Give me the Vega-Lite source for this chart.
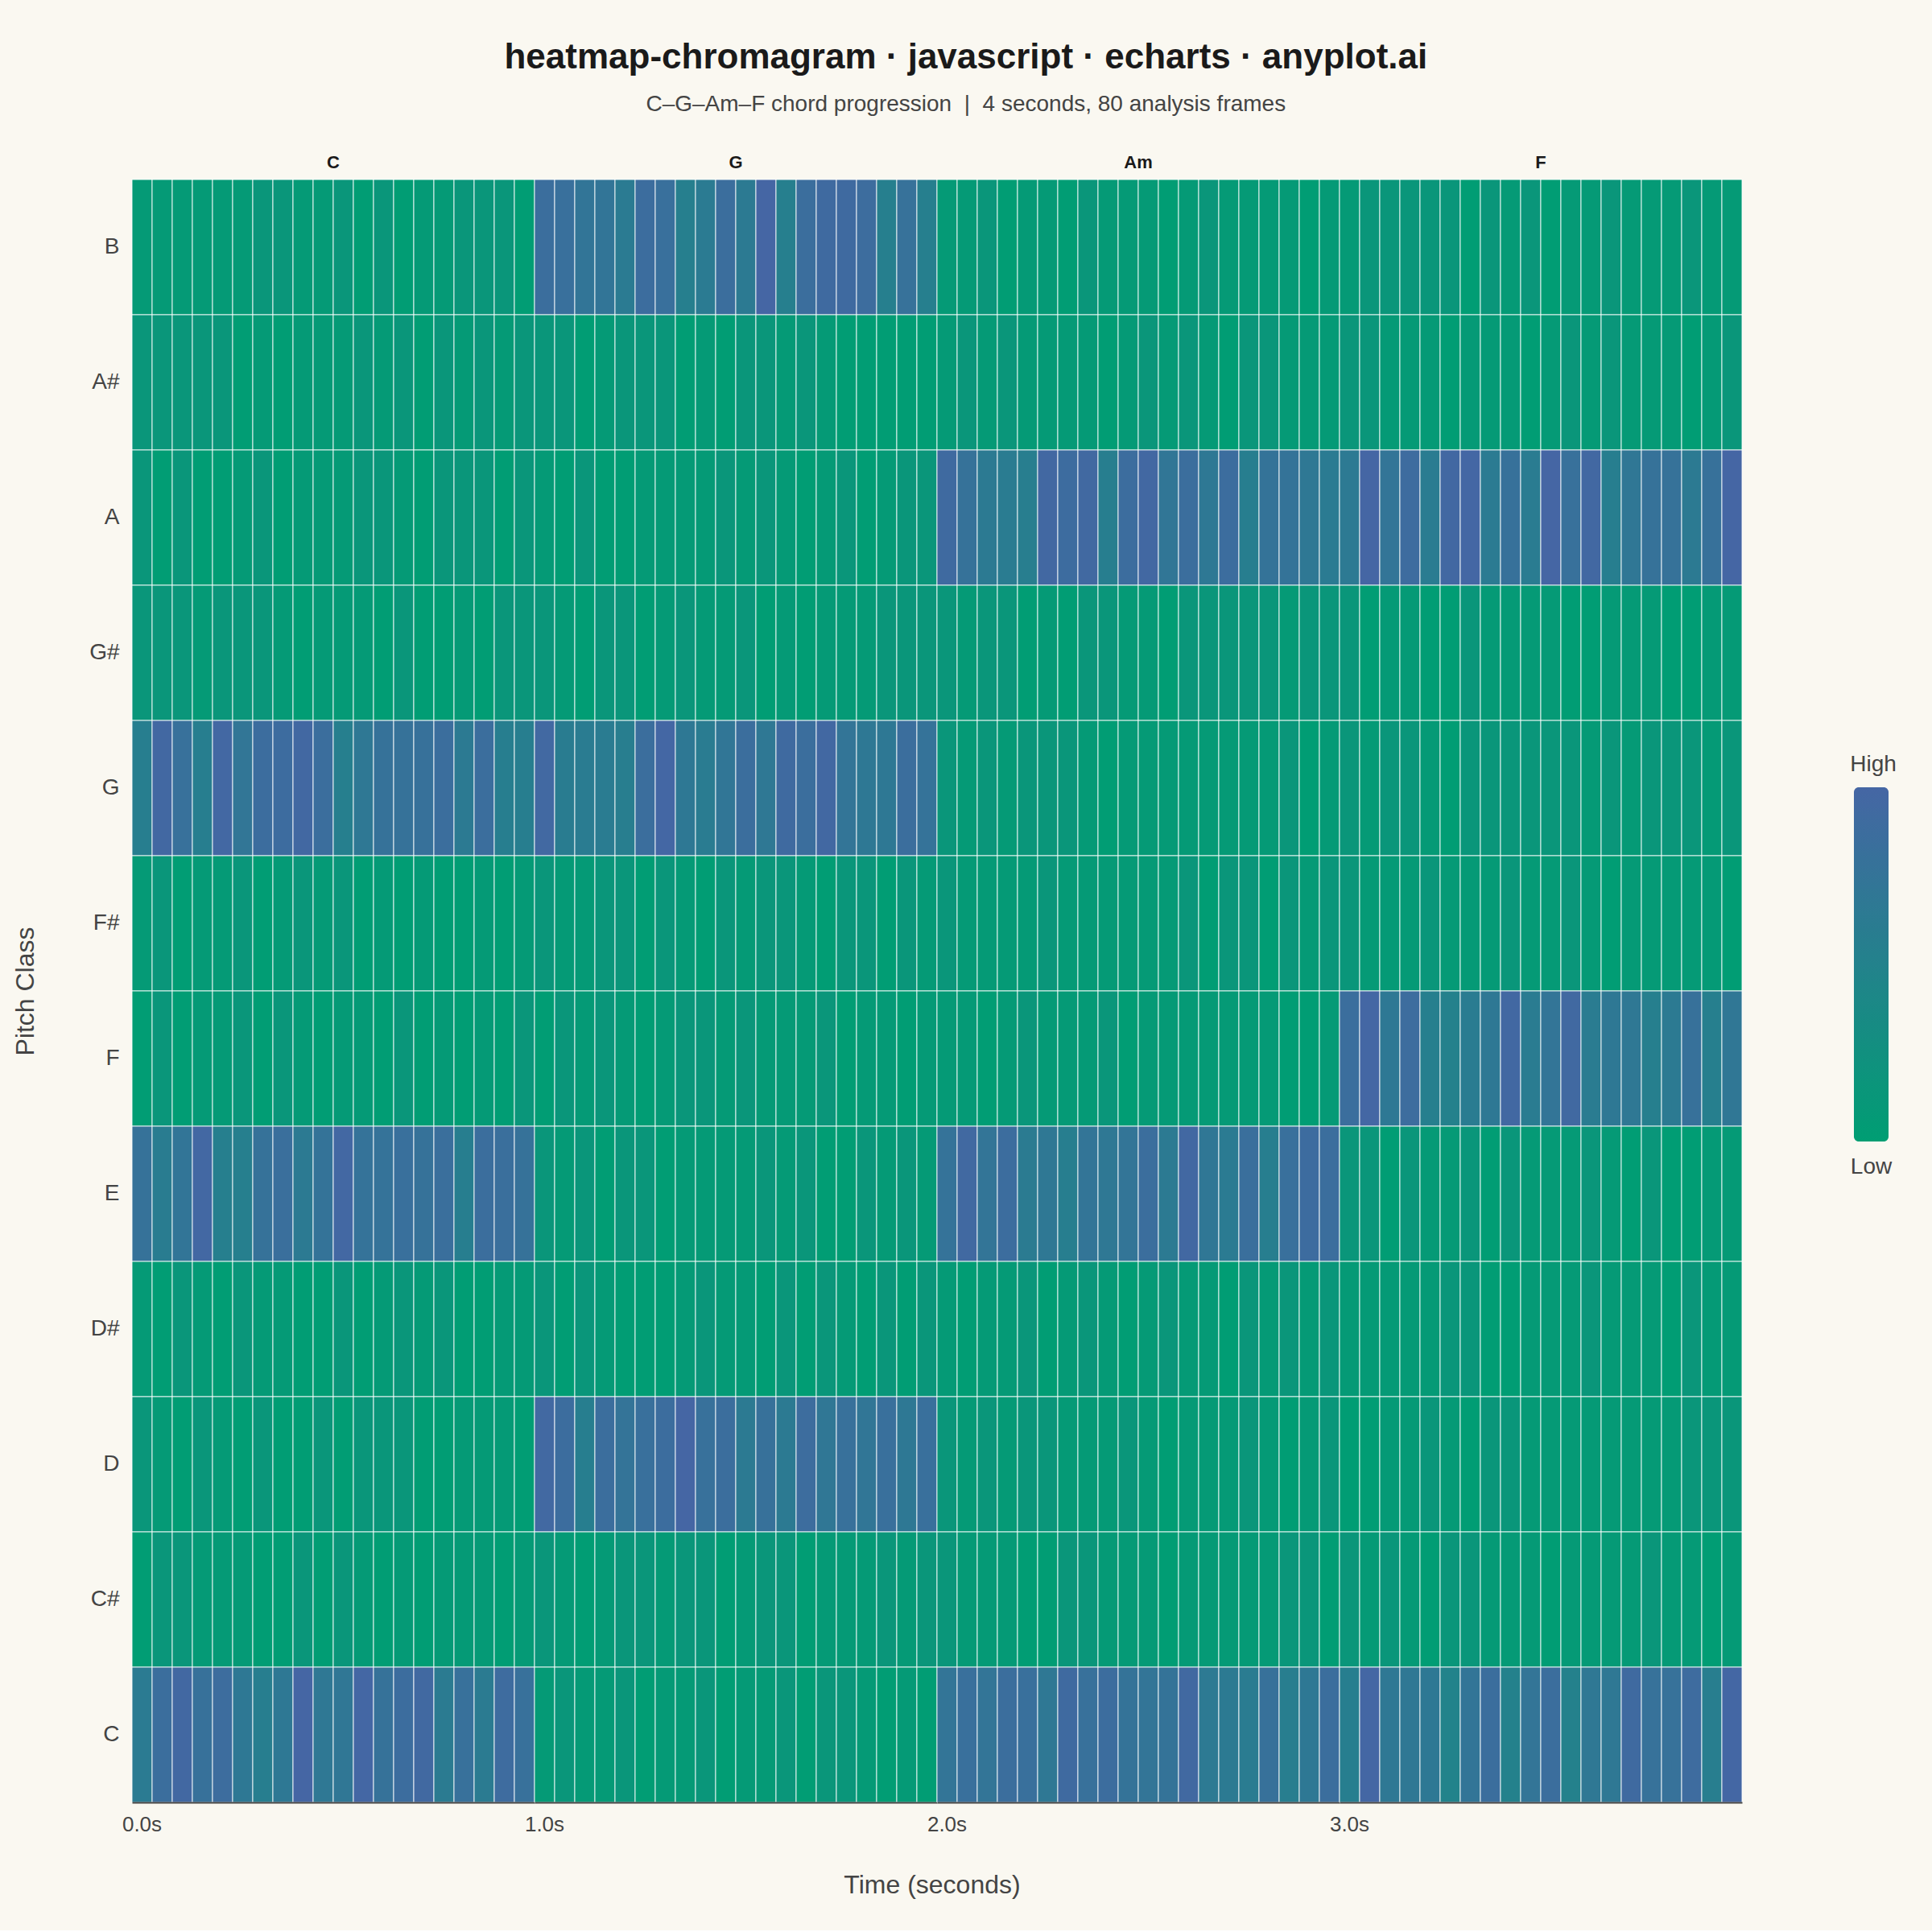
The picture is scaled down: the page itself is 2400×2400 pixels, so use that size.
{
"$schema": "https://vega.github.io/schema/vega-lite/v6.json",
"background": "#FAF8F1",
"padding": {"left": 15, "top": 50, "right": 44, "bottom": 40},
"bounds": "flush",
"title": {"text": "heatmap-chromagram · javascript · echarts · anyplot.ai", "subtitle": "C–G–Am–F chord progression \u00a0|\u00a0 4 seconds, 80 analysis frames", "anchor": "middle", "dx": 14, "font": "Liberation Sans", "fontSize": 44, "fontWeight": "bold", "color": "#1a1a1a", "subtitleFont": "Liberation Sans", "subtitleFontSize": 28, "subtitleColor": "#444444", "subtitlePadding": 22, "offset": 47},
"data": {"values": [
{"t":0,"p":"B","c":"C","v":0.07},{"t":1,"p":"B","c":"C","v":0.07},{"t":2,"p":"B","c":"C","v":0.07},{"t":3,"p":"B","c":"C","v":0.07},{"t":4,"p":"B","c":"C","v":0.07},{"t":5,"p":"B","c":"C","v":0.07},{"t":6,"p":"B","c":"C","v":0.14},{"t":7,"p":"B","c":"C","v":0.14},{"t":8,"p":"B","c":"C","v":0.07},{"t":9,"p":"B","c":"C","v":0.07},{"t":10,"p":"B","c":"C","v":0.14},{"t":11,"p":"B","c":"C","v":0.02},{"t":12,"p":"B","c":"C","v":0.14},{"t":13,"p":"B","c":"C","v":0.02},{"t":14,"p":"B","c":"C","v":0.07},{"t":15,"p":"B","c":"C","v":0.07},{"t":16,"p":"B","c":"C","v":0.14},{"t":17,"p":"B","c":"C","v":0.14},{"t":18,"p":"B","c":"C","v":0.14},{"t":19,"p":"B","c":"C","v":0.02},
{"t":20,"p":"B","c":"G","v":0.85},{"t":21,"p":"B","c":"G","v":0.83},{"t":22,"p":"B","c":"G","v":0.73},{"t":23,"p":"B","c":"G","v":0.73},{"t":24,"p":"B","c":"G","v":0.63},{"t":25,"p":"B","c":"G","v":0.87},{"t":26,"p":"B","c":"G","v":0.83},{"t":27,"p":"B","c":"G","v":0.55},{"t":28,"p":"B","c":"G","v":0.63},{"t":29,"p":"B","c":"G","v":0.85},{"t":30,"p":"B","c":"G","v":0.64},{"t":31,"p":"B","c":"G","v":1.0},{"t":32,"p":"B","c":"G","v":0.55},{"t":33,"p":"B","c":"G","v":0.86},{"t":34,"p":"B","c":"G","v":0.92},{"t":35,"p":"B","c":"G","v":0.92},{"t":36,"p":"B","c":"G","v":0.88},{"t":37,"p":"B","c":"G","v":0.55},{"t":38,"p":"B","c":"G","v":0.79},{"t":39,"p":"B","c":"G","v":0.55},
{"t":40,"p":"B","c":"Am","v":0.07},{"t":41,"p":"B","c":"Am","v":0.07},{"t":42,"p":"B","c":"Am","v":0.14},{"t":43,"p":"B","c":"Am","v":0.02},{"t":44,"p":"B","c":"Am","v":0.07},{"t":45,"p":"B","c":"Am","v":0.07},{"t":46,"p":"B","c":"Am","v":0.02},{"t":47,"p":"B","c":"Am","v":0.14},{"t":48,"p":"B","c":"Am","v":0.07},{"t":49,"p":"B","c":"Am","v":0.07},{"t":50,"p":"B","c":"Am","v":0.07},{"t":51,"p":"B","c":"Am","v":0.02},{"t":52,"p":"B","c":"Am","v":0.07},{"t":53,"p":"B","c":"Am","v":0.14},{"t":54,"p":"B","c":"Am","v":0.07},{"t":55,"p":"B","c":"Am","v":0.07},{"t":56,"p":"B","c":"Am","v":0.07},{"t":57,"p":"B","c":"Am","v":0.07},{"t":58,"p":"B","c":"Am","v":0.02},{"t":59,"p":"B","c":"Am","v":0.07},
{"t":60,"p":"B","c":"F","v":0.07},{"t":61,"p":"B","c":"F","v":0.14},{"t":62,"p":"B","c":"F","v":0.14},{"t":63,"p":"B","c":"F","v":0.14},{"t":64,"p":"B","c":"F","v":0.14},{"t":65,"p":"B","c":"F","v":0.14},{"t":66,"p":"B","c":"F","v":0.02},{"t":67,"p":"B","c":"F","v":0.14},{"t":68,"p":"B","c":"F","v":0.07},{"t":69,"p":"B","c":"F","v":0.14},{"t":70,"p":"B","c":"F","v":0.02},{"t":71,"p":"B","c":"F","v":0.07},{"t":72,"p":"B","c":"F","v":0.07},{"t":73,"p":"B","c":"F","v":0.14},{"t":74,"p":"B","c":"F","v":0.07},{"t":75,"p":"B","c":"F","v":0.07},{"t":76,"p":"B","c":"F","v":0.07},{"t":77,"p":"B","c":"F","v":0.14},{"t":78,"p":"B","c":"F","v":0.07},{"t":79,"p":"B","c":"F","v":0.07},
{"t":0,"p":"A#","c":"C","v":0.14},{"t":1,"p":"A#","c":"C","v":0.14},{"t":2,"p":"A#","c":"C","v":0.14},{"t":3,"p":"A#","c":"C","v":0.14},{"t":4,"p":"A#","c":"C","v":0.14},{"t":5,"p":"A#","c":"C","v":0.02},{"t":6,"p":"A#","c":"C","v":0.07},{"t":7,"p":"A#","c":"C","v":0.02},{"t":8,"p":"A#","c":"C","v":0.07},{"t":9,"p":"A#","c":"C","v":0.07},{"t":10,"p":"A#","c":"C","v":0.07},{"t":11,"p":"A#","c":"C","v":0.14},{"t":12,"p":"A#","c":"C","v":0.07},{"t":13,"p":"A#","c":"C","v":0.14},{"t":14,"p":"A#","c":"C","v":0.02},{"t":15,"p":"A#","c":"C","v":0.14},{"t":16,"p":"A#","c":"C","v":0.07},{"t":17,"p":"A#","c":"C","v":0.14},{"t":18,"p":"A#","c":"C","v":0.07},{"t":19,"p":"A#","c":"C","v":0.14},
{"t":20,"p":"A#","c":"G","v":0.14},{"t":21,"p":"A#","c":"G","v":0.14},{"t":22,"p":"A#","c":"G","v":0.02},{"t":23,"p":"A#","c":"G","v":0.07},{"t":24,"p":"A#","c":"G","v":0.14},{"t":25,"p":"A#","c":"G","v":0.14},{"t":26,"p":"A#","c":"G","v":0.14},{"t":27,"p":"A#","c":"G","v":0.02},{"t":28,"p":"A#","c":"G","v":0.07},{"t":29,"p":"A#","c":"G","v":0.02},{"t":30,"p":"A#","c":"G","v":0.14},{"t":31,"p":"A#","c":"G","v":0.14},{"t":32,"p":"A#","c":"G","v":0.07},{"t":33,"p":"A#","c":"G","v":0.14},{"t":34,"p":"A#","c":"G","v":0.07},{"t":35,"p":"A#","c":"G","v":0.02},{"t":36,"p":"A#","c":"G","v":0.02},{"t":37,"p":"A#","c":"G","v":0.02},{"t":38,"p":"A#","c":"G","v":0.02},{"t":39,"p":"A#","c":"G","v":0.02},
{"t":40,"p":"A#","c":"Am","v":0.07},{"t":41,"p":"A#","c":"Am","v":0.14},{"t":42,"p":"A#","c":"Am","v":0.07},{"t":43,"p":"A#","c":"Am","v":0.14},{"t":44,"p":"A#","c":"Am","v":0.07},{"t":45,"p":"A#","c":"Am","v":0.07},{"t":46,"p":"A#","c":"Am","v":0.07},{"t":47,"p":"A#","c":"Am","v":0.07},{"t":48,"p":"A#","c":"Am","v":0.02},{"t":49,"p":"A#","c":"Am","v":0.07},{"t":50,"p":"A#","c":"Am","v":0.14},{"t":51,"p":"A#","c":"Am","v":0.07},{"t":52,"p":"A#","c":"Am","v":0.14},{"t":53,"p":"A#","c":"Am","v":0.07},{"t":54,"p":"A#","c":"Am","v":0.02},{"t":55,"p":"A#","c":"Am","v":0.14},{"t":56,"p":"A#","c":"Am","v":0.14},{"t":57,"p":"A#","c":"Am","v":0.07},{"t":58,"p":"A#","c":"Am","v":0.07},{"t":59,"p":"A#","c":"Am","v":0.07},
{"t":60,"p":"A#","c":"F","v":0.14},{"t":61,"p":"A#","c":"F","v":0.14},{"t":62,"p":"A#","c":"F","v":0.07},{"t":63,"p":"A#","c":"F","v":0.07},{"t":64,"p":"A#","c":"F","v":0.07},{"t":65,"p":"A#","c":"F","v":0.02},{"t":66,"p":"A#","c":"F","v":0.07},{"t":67,"p":"A#","c":"F","v":0.07},{"t":68,"p":"A#","c":"F","v":0.07},{"t":69,"p":"A#","c":"F","v":0.02},{"t":70,"p":"A#","c":"F","v":0.07},{"t":71,"p":"A#","c":"F","v":0.14},{"t":72,"p":"A#","c":"F","v":0.07},{"t":73,"p":"A#","c":"F","v":0.14},{"t":74,"p":"A#","c":"F","v":0.07},{"t":75,"p":"A#","c":"F","v":0.07},{"t":76,"p":"A#","c":"F","v":0.07},{"t":77,"p":"A#","c":"F","v":0.02},{"t":78,"p":"A#","c":"F","v":0.07},{"t":79,"p":"A#","c":"F","v":0.14},
{"t":0,"p":"A","c":"C","v":0.14},{"t":1,"p":"A","c":"C","v":0.02},{"t":2,"p":"A","c":"C","v":0.14},{"t":3,"p":"A","c":"C","v":0.02},{"t":4,"p":"A","c":"C","v":0.02},{"t":5,"p":"A","c":"C","v":0.07},{"t":6,"p":"A","c":"C","v":0.14},{"t":7,"p":"A","c":"C","v":0.02},{"t":8,"p":"A","c":"C","v":0.07},{"t":9,"p":"A","c":"C","v":0.07},{"t":10,"p":"A","c":"C","v":0.07},{"t":11,"p":"A","c":"C","v":0.14},{"t":12,"p":"A","c":"C","v":0.14},{"t":13,"p":"A","c":"C","v":0.07},{"t":14,"p":"A","c":"C","v":0.02},{"t":15,"p":"A","c":"C","v":0.14},{"t":16,"p":"A","c":"C","v":0.14},{"t":17,"p":"A","c":"C","v":0.14},{"t":18,"p":"A","c":"C","v":0.02},{"t":19,"p":"A","c":"C","v":0.14},
{"t":20,"p":"A","c":"G","v":0.07},{"t":21,"p":"A","c":"G","v":0.02},{"t":22,"p":"A","c":"G","v":0.14},{"t":23,"p":"A","c":"G","v":0.02},{"t":24,"p":"A","c":"G","v":0.02},{"t":25,"p":"A","c":"G","v":0.07},{"t":26,"p":"A","c":"G","v":0.07},{"t":27,"p":"A","c":"G","v":0.07},{"t":28,"p":"A","c":"G","v":0.07},{"t":29,"p":"A","c":"G","v":0.14},{"t":30,"p":"A","c":"G","v":0.07},{"t":31,"p":"A","c":"G","v":0.14},{"t":32,"p":"A","c":"G","v":0.07},{"t":33,"p":"A","c":"G","v":0.02},{"t":34,"p":"A","c":"G","v":0.07},{"t":35,"p":"A","c":"G","v":0.14},{"t":36,"p":"A","c":"G","v":0.02},{"t":37,"p":"A","c":"G","v":0.07},{"t":38,"p":"A","c":"G","v":0.14},{"t":39,"p":"A","c":"G","v":0.14},
{"t":40,"p":"A","c":"Am","v":0.92},{"t":41,"p":"A","c":"Am","v":0.78},{"t":42,"p":"A","c":"Am","v":0.64},{"t":43,"p":"A","c":"Am","v":0.61},{"t":44,"p":"A","c":"Am","v":0.58},{"t":45,"p":"A","c":"Am","v":0.96},{"t":46,"p":"A","c":"Am","v":0.89},{"t":47,"p":"A","c":"Am","v":0.94},{"t":48,"p":"A","c":"Am","v":0.57},{"t":49,"p":"A","c":"Am","v":0.87},{"t":50,"p":"A","c":"Am","v":0.96},{"t":51,"p":"A","c":"Am","v":0.71},{"t":52,"p":"A","c":"Am","v":0.86},{"t":53,"p":"A","c":"Am","v":0.67},{"t":54,"p":"A","c":"Am","v":0.87},{"t":55,"p":"A","c":"Am","v":0.57},{"t":56,"p":"A","c":"Am","v":0.76},{"t":57,"p":"A","c":"Am","v":0.76},{"t":58,"p":"A","c":"Am","v":0.68},{"t":59,"p":"A","c":"Am","v":0.63},
{"t":60,"p":"A","c":"F","v":0.65},{"t":61,"p":"A","c":"F","v":1.0},{"t":62,"p":"A","c":"F","v":0.74},{"t":63,"p":"A","c":"F","v":0.9},{"t":64,"p":"A","c":"F","v":0.61},{"t":65,"p":"A","c":"F","v":0.96},{"t":66,"p":"A","c":"F","v":0.99},{"t":67,"p":"A","c":"F","v":0.63},{"t":68,"p":"A","c":"F","v":0.8},{"t":69,"p":"A","c":"F","v":0.61},{"t":70,"p":"A","c":"F","v":1.0},{"t":71,"p":"A","c":"F","v":0.81},{"t":72,"p":"A","c":"F","v":0.96},{"t":73,"p":"A","c":"F","v":0.57},{"t":74,"p":"A","c":"F","v":0.7},{"t":75,"p":"A","c":"F","v":0.78},{"t":76,"p":"A","c":"F","v":0.78},{"t":77,"p":"A","c":"F","v":0.64},{"t":78,"p":"A","c":"F","v":0.8},{"t":79,"p":"A","c":"F","v":1.0},
{"t":0,"p":"G#","c":"C","v":0.14},{"t":1,"p":"G#","c":"C","v":0.14},{"t":2,"p":"G#","c":"C","v":0.14},{"t":3,"p":"G#","c":"C","v":0.07},{"t":4,"p":"G#","c":"C","v":0.14},{"t":5,"p":"G#","c":"C","v":0.14},{"t":6,"p":"G#","c":"C","v":0.14},{"t":7,"p":"G#","c":"C","v":0.07},{"t":8,"p":"G#","c":"C","v":0.02},{"t":9,"p":"G#","c":"C","v":0.07},{"t":10,"p":"G#","c":"C","v":0.07},{"t":11,"p":"G#","c":"C","v":0.07},{"t":12,"p":"G#","c":"C","v":0.02},{"t":13,"p":"G#","c":"C","v":0.14},{"t":14,"p":"G#","c":"C","v":0.02},{"t":15,"p":"G#","c":"C","v":0.02},{"t":16,"p":"G#","c":"C","v":0.07},{"t":17,"p":"G#","c":"C","v":0.02},{"t":18,"p":"G#","c":"C","v":0.14},{"t":19,"p":"G#","c":"C","v":0.14},
{"t":20,"p":"G#","c":"G","v":0.14},{"t":21,"p":"G#","c":"G","v":0.07},{"t":22,"p":"G#","c":"G","v":0.02},{"t":23,"p":"G#","c":"G","v":0.14},{"t":24,"p":"G#","c":"G","v":0.14},{"t":25,"p":"G#","c":"G","v":0.02},{"t":26,"p":"G#","c":"G","v":0.07},{"t":27,"p":"G#","c":"G","v":0.14},{"t":28,"p":"G#","c":"G","v":0.07},{"t":29,"p":"G#","c":"G","v":0.07},{"t":30,"p":"G#","c":"G","v":0.14},{"t":31,"p":"G#","c":"G","v":0.02},{"t":32,"p":"G#","c":"G","v":0.07},{"t":33,"p":"G#","c":"G","v":0.02},{"t":34,"p":"G#","c":"G","v":0.07},{"t":35,"p":"G#","c":"G","v":0.07},{"t":36,"p":"G#","c":"G","v":0.07},{"t":37,"p":"G#","c":"G","v":0.14},{"t":38,"p":"G#","c":"G","v":0.14},{"t":39,"p":"G#","c":"G","v":0.14},
{"t":40,"p":"G#","c":"Am","v":0.14},{"t":41,"p":"G#","c":"Am","v":0.07},{"t":42,"p":"G#","c":"Am","v":0.14},{"t":43,"p":"G#","c":"Am","v":0.14},{"t":44,"p":"G#","c":"Am","v":0.02},{"t":45,"p":"G#","c":"Am","v":0.07},{"t":46,"p":"G#","c":"Am","v":0.02},{"t":47,"p":"G#","c":"Am","v":0.14},{"t":48,"p":"G#","c":"Am","v":0.14},{"t":49,"p":"G#","c":"Am","v":0.07},{"t":50,"p":"G#","c":"Am","v":0.07},{"t":51,"p":"G#","c":"Am","v":0.02},{"t":52,"p":"G#","c":"Am","v":0.14},{"t":53,"p":"G#","c":"Am","v":0.14},{"t":54,"p":"G#","c":"Am","v":0.14},{"t":55,"p":"G#","c":"Am","v":0.14},{"t":56,"p":"G#","c":"Am","v":0.14},{"t":57,"p":"G#","c":"Am","v":0.07},{"t":58,"p":"G#","c":"Am","v":0.14},{"t":59,"p":"G#","c":"Am","v":0.14},
{"t":60,"p":"G#","c":"F","v":0.14},{"t":61,"p":"G#","c":"F","v":0.02},{"t":62,"p":"G#","c":"F","v":0.07},{"t":63,"p":"G#","c":"F","v":0.07},{"t":64,"p":"G#","c":"F","v":0.02},{"t":65,"p":"G#","c":"F","v":0.02},{"t":66,"p":"G#","c":"F","v":0.14},{"t":67,"p":"G#","c":"F","v":0.07},{"t":68,"p":"G#","c":"F","v":0.07},{"t":69,"p":"G#","c":"F","v":0.07},{"t":70,"p":"G#","c":"F","v":0.07},{"t":71,"p":"G#","c":"F","v":0.02},{"t":72,"p":"G#","c":"F","v":0.02},{"t":73,"p":"G#","c":"F","v":0.07},{"t":74,"p":"G#","c":"F","v":0.07},{"t":75,"p":"G#","c":"F","v":0.07},{"t":76,"p":"G#","c":"F","v":0.02},{"t":77,"p":"G#","c":"F","v":0.02},{"t":78,"p":"G#","c":"F","v":0.07},{"t":79,"p":"G#","c":"F","v":0.07},
{"t":0,"p":"G","c":"C","v":0.57},{"t":1,"p":"G","c":"C","v":0.96},{"t":2,"p":"G","c":"C","v":0.81},{"t":3,"p":"G","c":"C","v":0.57},{"t":4,"p":"G","c":"C","v":0.97},{"t":5,"p":"G","c":"C","v":0.72},{"t":6,"p":"G","c":"C","v":0.87},{"t":7,"p":"G","c":"C","v":0.89},{"t":8,"p":"G","c":"C","v":0.96},{"t":9,"p":"G","c":"C","v":0.85},{"t":10,"p":"G","c":"C","v":0.55},{"t":11,"p":"G","c":"C","v":0.68},{"t":12,"p":"G","c":"C","v":0.78},{"t":13,"p":"G","c":"C","v":0.78},{"t":14,"p":"G","c":"C","v":0.8},{"t":15,"p":"G","c":"C","v":0.85},{"t":16,"p":"G","c":"C","v":0.64},{"t":17,"p":"G","c":"C","v":0.85},{"t":18,"p":"G","c":"C","v":0.57},{"t":19,"p":"G","c":"C","v":0.57},
{"t":20,"p":"G","c":"G","v":0.95},{"t":21,"p":"G","c":"G","v":0.6},{"t":22,"p":"G","c":"G","v":0.61},{"t":23,"p":"G","c":"G","v":0.61},{"t":24,"p":"G","c":"G","v":0.58},{"t":25,"p":"G","c":"G","v":0.86},{"t":26,"p":"G","c":"G","v":0.99},{"t":27,"p":"G","c":"G","v":0.67},{"t":28,"p":"G","c":"G","v":0.61},{"t":29,"p":"G","c":"G","v":0.71},{"t":30,"p":"G","c":"G","v":0.86},{"t":31,"p":"G","c":"G","v":0.68},{"t":32,"p":"G","c":"G","v":0.92},{"t":33,"p":"G","c":"G","v":0.85},{"t":34,"p":"G","c":"G","v":0.96},{"t":35,"p":"G","c":"G","v":0.74},{"t":36,"p":"G","c":"G","v":0.67},{"t":37,"p":"G","c":"G","v":0.67},{"t":38,"p":"G","c":"G","v":0.86},{"t":39,"p":"G","c":"G","v":0.77},
{"t":40,"p":"G","c":"Am","v":0.14},{"t":41,"p":"G","c":"Am","v":0.07},{"t":42,"p":"G","c":"Am","v":0.14},{"t":43,"p":"G","c":"Am","v":0.07},{"t":44,"p":"G","c":"Am","v":0.14},{"t":45,"p":"G","c":"Am","v":0.14},{"t":46,"p":"G","c":"Am","v":0.14},{"t":47,"p":"G","c":"Am","v":0.07},{"t":48,"p":"G","c":"Am","v":0.02},{"t":49,"p":"G","c":"Am","v":0.07},{"t":50,"p":"G","c":"Am","v":0.07},{"t":51,"p":"G","c":"Am","v":0.07},{"t":52,"p":"G","c":"Am","v":0.07},{"t":53,"p":"G","c":"Am","v":0.07},{"t":54,"p":"G","c":"Am","v":0.07},{"t":55,"p":"G","c":"Am","v":0.07},{"t":56,"p":"G","c":"Am","v":0.07},{"t":57,"p":"G","c":"Am","v":0.14},{"t":58,"p":"G","c":"Am","v":0.02},{"t":59,"p":"G","c":"Am","v":0.07},
{"t":60,"p":"G","c":"F","v":0.14},{"t":61,"p":"G","c":"F","v":0.07},{"t":62,"p":"G","c":"F","v":0.14},{"t":63,"p":"G","c":"F","v":0.14},{"t":64,"p":"G","c":"F","v":0.07},{"t":65,"p":"G","c":"F","v":0.02},{"t":66,"p":"G","c":"F","v":0.14},{"t":67,"p":"G","c":"F","v":0.14},{"t":68,"p":"G","c":"F","v":0.14},{"t":69,"p":"G","c":"F","v":0.14},{"t":70,"p":"G","c":"F","v":0.14},{"t":71,"p":"G","c":"F","v":0.14},{"t":72,"p":"G","c":"F","v":0.07},{"t":73,"p":"G","c":"F","v":0.14},{"t":74,"p":"G","c":"F","v":0.07},{"t":75,"p":"G","c":"F","v":0.14},{"t":76,"p":"G","c":"F","v":0.14},{"t":77,"p":"G","c":"F","v":0.14},{"t":78,"p":"G","c":"F","v":0.07},{"t":79,"p":"G","c":"F","v":0.14},
{"t":0,"p":"F#","c":"C","v":0.07},{"t":1,"p":"F#","c":"C","v":0.14},{"t":2,"p":"F#","c":"C","v":0.02},{"t":3,"p":"F#","c":"C","v":0.07},{"t":4,"p":"F#","c":"C","v":0.07},{"t":5,"p":"F#","c":"C","v":0.14},{"t":6,"p":"F#","c":"C","v":0.02},{"t":7,"p":"F#","c":"C","v":0.07},{"t":8,"p":"F#","c":"C","v":0.14},{"t":9,"p":"F#","c":"C","v":0.07},{"t":10,"p":"F#","c":"C","v":0.14},{"t":11,"p":"F#","c":"C","v":0.02},{"t":12,"p":"F#","c":"C","v":0.07},{"t":13,"p":"F#","c":"C","v":0.02},{"t":14,"p":"F#","c":"C","v":0.07},{"t":15,"p":"F#","c":"C","v":0.02},{"t":16,"p":"F#","c":"C","v":0.02},{"t":17,"p":"F#","c":"C","v":0.07},{"t":18,"p":"F#","c":"C","v":0.02},{"t":19,"p":"F#","c":"C","v":0.07},
{"t":20,"p":"F#","c":"G","v":0.14},{"t":21,"p":"F#","c":"G","v":0.07},{"t":22,"p":"F#","c":"G","v":0.07},{"t":23,"p":"F#","c":"G","v":0.14},{"t":24,"p":"F#","c":"G","v":0.14},{"t":25,"p":"F#","c":"G","v":0.02},{"t":26,"p":"F#","c":"G","v":0.14},{"t":27,"p":"F#","c":"G","v":0.07},{"t":28,"p":"F#","c":"G","v":0.02},{"t":29,"p":"F#","c":"G","v":0.14},{"t":30,"p":"F#","c":"G","v":0.07},{"t":31,"p":"F#","c":"G","v":0.14},{"t":32,"p":"F#","c":"G","v":0.14},{"t":33,"p":"F#","c":"G","v":0.07},{"t":34,"p":"F#","c":"G","v":0.02},{"t":35,"p":"F#","c":"G","v":0.14},{"t":36,"p":"F#","c":"G","v":0.14},{"t":37,"p":"F#","c":"G","v":0.02},{"t":38,"p":"F#","c":"G","v":0.14},{"t":39,"p":"F#","c":"G","v":0.07},
{"t":40,"p":"F#","c":"Am","v":0.14},{"t":41,"p":"F#","c":"Am","v":0.07},{"t":42,"p":"F#","c":"Am","v":0.07},{"t":43,"p":"F#","c":"Am","v":0.07},{"t":44,"p":"F#","c":"Am","v":0.07},{"t":45,"p":"F#","c":"Am","v":0.14},{"t":46,"p":"F#","c":"Am","v":0.07},{"t":47,"p":"F#","c":"Am","v":0.07},{"t":48,"p":"F#","c":"Am","v":0.07},{"t":49,"p":"F#","c":"Am","v":0.07},{"t":50,"p":"F#","c":"Am","v":0.07},{"t":51,"p":"F#","c":"Am","v":0.07},{"t":52,"p":"F#","c":"Am","v":0.14},{"t":53,"p":"F#","c":"Am","v":0.02},{"t":54,"p":"F#","c":"Am","v":0.14},{"t":55,"p":"F#","c":"Am","v":0.14},{"t":56,"p":"F#","c":"Am","v":0.02},{"t":57,"p":"F#","c":"Am","v":0.14},{"t":58,"p":"F#","c":"Am","v":0.07},{"t":59,"p":"F#","c":"Am","v":0.14},
{"t":60,"p":"F#","c":"F","v":0.14},{"t":61,"p":"F#","c":"F","v":0.07},{"t":62,"p":"F#","c":"F","v":0.07},{"t":63,"p":"F#","c":"F","v":0.07},{"t":64,"p":"F#","c":"F","v":0.14},{"t":65,"p":"F#","c":"F","v":0.07},{"t":66,"p":"F#","c":"F","v":0.07},{"t":67,"p":"F#","c":"F","v":0.07},{"t":68,"p":"F#","c":"F","v":0.14},{"t":69,"p":"F#","c":"F","v":0.07},{"t":70,"p":"F#","c":"F","v":0.07},{"t":71,"p":"F#","c":"F","v":0.14},{"t":72,"p":"F#","c":"F","v":0.07},{"t":73,"p":"F#","c":"F","v":0.02},{"t":74,"p":"F#","c":"F","v":0.07},{"t":75,"p":"F#","c":"F","v":0.07},{"t":76,"p":"F#","c":"F","v":0.07},{"t":77,"p":"F#","c":"F","v":0.07},{"t":78,"p":"F#","c":"F","v":0.07},{"t":79,"p":"F#","c":"F","v":0.02},
{"t":0,"p":"F","c":"C","v":0.02},{"t":1,"p":"F","c":"C","v":0.14},{"t":2,"p":"F","c":"C","v":0.02},{"t":3,"p":"F","c":"C","v":0.07},{"t":4,"p":"F","c":"C","v":0.07},{"t":5,"p":"F","c":"C","v":0.14},{"t":6,"p":"F","c":"C","v":0.02},{"t":7,"p":"F","c":"C","v":0.14},{"t":8,"p":"F","c":"C","v":0.07},{"t":9,"p":"F","c":"C","v":0.02},{"t":10,"p":"F","c":"C","v":0.07},{"t":11,"p":"F","c":"C","v":0.07},{"t":12,"p":"F","c":"C","v":0.02},{"t":13,"p":"F","c":"C","v":0.14},{"t":14,"p":"F","c":"C","v":0.02},{"t":15,"p":"F","c":"C","v":0.07},{"t":16,"p":"F","c":"C","v":0.02},{"t":17,"p":"F","c":"C","v":0.07},{"t":18,"p":"F","c":"C","v":0.02},{"t":19,"p":"F","c":"C","v":0.14},
{"t":20,"p":"F","c":"G","v":0.02},{"t":21,"p":"F","c":"G","v":0.14},{"t":22,"p":"F","c":"G","v":0.07},{"t":23,"p":"F","c":"G","v":0.14},{"t":24,"p":"F","c":"G","v":0.07},{"t":25,"p":"F","c":"G","v":0.02},{"t":26,"p":"F","c":"G","v":0.07},{"t":27,"p":"F","c":"G","v":0.14},{"t":28,"p":"F","c":"G","v":0.14},{"t":29,"p":"F","c":"G","v":0.07},{"t":30,"p":"F","c":"G","v":0.14},{"t":31,"p":"F","c":"G","v":0.07},{"t":32,"p":"F","c":"G","v":0.07},{"t":33,"p":"F","c":"G","v":0.07},{"t":34,"p":"F","c":"G","v":0.14},{"t":35,"p":"F","c":"G","v":0.02},{"t":36,"p":"F","c":"G","v":0.07},{"t":37,"p":"F","c":"G","v":0.07},{"t":38,"p":"F","c":"G","v":0.02},{"t":39,"p":"F","c":"G","v":0.07},
{"t":40,"p":"F","c":"Am","v":0.07},{"t":41,"p":"F","c":"Am","v":0.07},{"t":42,"p":"F","c":"Am","v":0.02},{"t":43,"p":"F","c":"Am","v":0.07},{"t":44,"p":"F","c":"Am","v":0.14},{"t":45,"p":"F","c":"Am","v":0.07},{"t":46,"p":"F","c":"Am","v":0.07},{"t":47,"p":"F","c":"Am","v":0.07},{"t":48,"p":"F","c":"Am","v":0.14},{"t":49,"p":"F","c":"Am","v":0.02},{"t":50,"p":"F","c":"Am","v":0.07},{"t":51,"p":"F","c":"Am","v":0.07},{"t":52,"p":"F","c":"Am","v":0.07},{"t":53,"p":"F","c":"Am","v":0.07},{"t":54,"p":"F","c":"Am","v":0.07},{"t":55,"p":"F","c":"Am","v":0.07},{"t":56,"p":"F","c":"Am","v":0.07},{"t":57,"p":"F","c":"Am","v":0.02},{"t":58,"p":"F","c":"Am","v":0.02},{"t":59,"p":"F","c":"Am","v":0.07},
{"t":60,"p":"F","c":"F","v":0.86},{"t":61,"p":"F","c":"F","v":0.99},{"t":62,"p":"F","c":"F","v":0.67},{"t":63,"p":"F","c":"F","v":0.88},{"t":64,"p":"F","c":"F","v":0.55},{"t":65,"p":"F","c":"F","v":0.52},{"t":66,"p":"F","c":"F","v":0.61},{"t":67,"p":"F","c":"F","v":0.67},{"t":68,"p":"F","c":"F","v":0.96},{"t":69,"p":"F","c":"F","v":0.61},{"t":70,"p":"F","c":"F","v":0.74},{"t":71,"p":"F","c":"F","v":0.94},{"t":72,"p":"F","c":"F","v":0.61},{"t":73,"p":"F","c":"F","v":0.67},{"t":74,"p":"F","c":"F","v":0.68},{"t":75,"p":"F","c":"F","v":0.55},{"t":76,"p":"F","c":"F","v":0.64},{"t":77,"p":"F","c":"F","v":0.8},{"t":78,"p":"F","c":"F","v":0.55},{"t":79,"p":"F","c":"F","v":0.7},
{"t":0,"p":"E","c":"C","v":0.78},{"t":1,"p":"E","c":"C","v":0.6},{"t":2,"p":"E","c":"C","v":0.73},{"t":3,"p":"E","c":"C","v":0.97},{"t":4,"p":"E","c":"C","v":0.55},{"t":5,"p":"E","c":"C","v":0.55},{"t":6,"p":"E","c":"C","v":0.78},{"t":7,"p":"E","c":"C","v":0.84},{"t":8,"p":"E","c":"C","v":0.64},{"t":9,"p":"E","c":"C","v":0.76},{"t":10,"p":"E","c":"C","v":0.97},{"t":11,"p":"E","c":"C","v":0.77},{"t":12,"p":"E","c":"C","v":0.77},{"t":13,"p":"E","c":"C","v":0.83},{"t":14,"p":"E","c":"C","v":0.78},{"t":15,"p":"E","c":"C","v":0.84},{"t":16,"p":"E","c":"C","v":0.57},{"t":17,"p":"E","c":"C","v":0.85},{"t":18,"p":"E","c":"C","v":0.84},{"t":19,"p":"E","c":"C","v":0.78},
{"t":20,"p":"E","c":"G","v":0.14},{"t":21,"p":"E","c":"G","v":0.07},{"t":22,"p":"E","c":"G","v":0.14},{"t":23,"p":"E","c":"G","v":0.02},{"t":24,"p":"E","c":"G","v":0.14},{"t":25,"p":"E","c":"G","v":0.14},{"t":26,"p":"E","c":"G","v":0.02},{"t":27,"p":"E","c":"G","v":0.07},{"t":28,"p":"E","c":"G","v":0.07},{"t":29,"p":"E","c":"G","v":0.07},{"t":30,"p":"E","c":"G","v":0.07},{"t":31,"p":"E","c":"G","v":0.14},{"t":32,"p":"E","c":"G","v":0.07},{"t":33,"p":"E","c":"G","v":0.14},{"t":34,"p":"E","c":"G","v":0.02},{"t":35,"p":"E","c":"G","v":0.02},{"t":36,"p":"E","c":"G","v":0.14},{"t":37,"p":"E","c":"G","v":0.07},{"t":38,"p":"E","c":"G","v":0.14},{"t":39,"p":"E","c":"G","v":0.07},
{"t":40,"p":"E","c":"Am","v":0.77},{"t":41,"p":"E","c":"Am","v":0.94},{"t":42,"p":"E","c":"Am","v":0.74},{"t":43,"p":"E","c":"Am","v":0.87},{"t":44,"p":"E","c":"Am","v":0.62},{"t":45,"p":"E","c":"Am","v":0.68},{"t":46,"p":"E","c":"Am","v":0.57},{"t":47,"p":"E","c":"Am","v":0.74},{"t":48,"p":"E","c":"Am","v":0.68},{"t":49,"p":"E","c":"Am","v":0.74},{"t":50,"p":"E","c":"Am","v":0.86},{"t":51,"p":"E","c":"Am","v":0.64},{"t":52,"p":"E","c":"Am","v":0.96},{"t":53,"p":"E","c":"Am","v":0.7},{"t":54,"p":"E","c":"Am","v":0.63},{"t":55,"p":"E","c":"Am","v":0.84},{"t":56,"p":"E","c":"Am","v":0.57},{"t":57,"p":"E","c":"Am","v":0.83},{"t":58,"p":"E","c":"Am","v":0.89},{"t":59,"p":"E","c":"Am","v":0.85},
{"t":60,"p":"E","c":"F","v":0.14},{"t":61,"p":"E","c":"F","v":0.14},{"t":62,"p":"E","c":"F","v":0.02},{"t":63,"p":"E","c":"F","v":0.14},{"t":64,"p":"E","c":"F","v":0.07},{"t":65,"p":"E","c":"F","v":0.07},{"t":66,"p":"E","c":"F","v":0.14},{"t":67,"p":"E","c":"F","v":0.02},{"t":68,"p":"E","c":"F","v":0.14},{"t":69,"p":"E","c":"F","v":0.07},{"t":70,"p":"E","c":"F","v":0.07},{"t":71,"p":"E","c":"F","v":0.07},{"t":72,"p":"E","c":"F","v":0.14},{"t":73,"p":"E","c":"F","v":0.07},{"t":74,"p":"E","c":"F","v":0.02},{"t":75,"p":"E","c":"F","v":0.14},{"t":76,"p":"E","c":"F","v":0.02},{"t":77,"p":"E","c":"F","v":0.02},{"t":78,"p":"E","c":"F","v":0.07},{"t":79,"p":"E","c":"F","v":0.07},
{"t":0,"p":"D#","c":"C","v":0.07},{"t":1,"p":"D#","c":"C","v":0.02},{"t":2,"p":"D#","c":"C","v":0.14},{"t":3,"p":"D#","c":"C","v":0.07},{"t":4,"p":"D#","c":"C","v":0.02},{"t":5,"p":"D#","c":"C","v":0.14},{"t":6,"p":"D#","c":"C","v":0.07},{"t":7,"p":"D#","c":"C","v":0.07},{"t":8,"p":"D#","c":"C","v":0.02},{"t":9,"p":"D#","c":"C","v":0.02},{"t":10,"p":"D#","c":"C","v":0.14},{"t":11,"p":"D#","c":"C","v":0.02},{"t":12,"p":"D#","c":"C","v":0.07},{"t":13,"p":"D#","c":"C","v":0.14},{"t":14,"p":"D#","c":"C","v":0.07},{"t":15,"p":"D#","c":"C","v":0.14},{"t":16,"p":"D#","c":"C","v":0.02},{"t":17,"p":"D#","c":"C","v":0.02},{"t":18,"p":"D#","c":"C","v":0.07},{"t":19,"p":"D#","c":"C","v":0.07},
{"t":20,"p":"D#","c":"G","v":0.14},{"t":21,"p":"D#","c":"G","v":0.02},{"t":22,"p":"D#","c":"G","v":0.14},{"t":23,"p":"D#","c":"G","v":0.07},{"t":24,"p":"D#","c":"G","v":0.02},{"t":25,"p":"D#","c":"G","v":0.02},{"t":26,"p":"D#","c":"G","v":0.02},{"t":27,"p":"D#","c":"G","v":0.07},{"t":28,"p":"D#","c":"G","v":0.14},{"t":29,"p":"D#","c":"G","v":0.07},{"t":30,"p":"D#","c":"G","v":0.07},{"t":31,"p":"D#","c":"G","v":0.02},{"t":32,"p":"D#","c":"G","v":0.14},{"t":33,"p":"D#","c":"G","v":0.02},{"t":34,"p":"D#","c":"G","v":0.14},{"t":35,"p":"D#","c":"G","v":0.07},{"t":36,"p":"D#","c":"G","v":0.02},{"t":37,"p":"D#","c":"G","v":0.14},{"t":38,"p":"D#","c":"G","v":0.02},{"t":39,"p":"D#","c":"G","v":0.14},
{"t":40,"p":"D#","c":"Am","v":0.07},{"t":41,"p":"D#","c":"Am","v":0.02},{"t":42,"p":"D#","c":"Am","v":0.07},{"t":43,"p":"D#","c":"Am","v":0.07},{"t":44,"p":"D#","c":"Am","v":0.14},{"t":45,"p":"D#","c":"Am","v":0.02},{"t":46,"p":"D#","c":"Am","v":0.07},{"t":47,"p":"D#","c":"Am","v":0.14},{"t":48,"p":"D#","c":"Am","v":0.07},{"t":49,"p":"D#","c":"Am","v":0.02},{"t":50,"p":"D#","c":"Am","v":0.07},{"t":51,"p":"D#","c":"Am","v":0.14},{"t":52,"p":"D#","c":"Am","v":0.07},{"t":53,"p":"D#","c":"Am","v":0.07},{"t":54,"p":"D#","c":"Am","v":0.02},{"t":55,"p":"D#","c":"Am","v":0.14},{"t":56,"p":"D#","c":"Am","v":0.07},{"t":57,"p":"D#","c":"Am","v":0.14},{"t":58,"p":"D#","c":"Am","v":0.07},{"t":59,"p":"D#","c":"Am","v":0.14},
{"t":60,"p":"D#","c":"F","v":0.07},{"t":61,"p":"D#","c":"F","v":0.07},{"t":62,"p":"D#","c":"F","v":0.07},{"t":63,"p":"D#","c":"F","v":0.07},{"t":64,"p":"D#","c":"F","v":0.07},{"t":65,"p":"D#","c":"F","v":0.14},{"t":66,"p":"D#","c":"F","v":0.14},{"t":67,"p":"D#","c":"F","v":0.02},{"t":68,"p":"D#","c":"F","v":0.02},{"t":69,"p":"D#","c":"F","v":0.07},{"t":70,"p":"D#","c":"F","v":0.07},{"t":71,"p":"D#","c":"F","v":0.07},{"t":72,"p":"D#","c":"F","v":0.14},{"t":73,"p":"D#","c":"F","v":0.07},{"t":74,"p":"D#","c":"F","v":0.07},{"t":75,"p":"D#","c":"F","v":0.07},{"t":76,"p":"D#","c":"F","v":0.02},{"t":77,"p":"D#","c":"F","v":0.14},{"t":78,"p":"D#","c":"F","v":0.07},{"t":79,"p":"D#","c":"F","v":0.07},
{"t":0,"p":"D","c":"C","v":0.14},{"t":1,"p":"D","c":"C","v":0.07},{"t":2,"p":"D","c":"C","v":0.02},{"t":3,"p":"D","c":"C","v":0.14},{"t":4,"p":"D","c":"C","v":0.07},{"t":5,"p":"D","c":"C","v":0.02},{"t":6,"p":"D","c":"C","v":0.14},{"t":7,"p":"D","c":"C","v":0.02},{"t":8,"p":"D","c":"C","v":0.02},{"t":9,"p":"D","c":"C","v":0.14},{"t":10,"p":"D","c":"C","v":0.02},{"t":11,"p":"D","c":"C","v":0.14},{"t":12,"p":"D","c":"C","v":0.14},{"t":13,"p":"D","c":"C","v":0.14},{"t":14,"p":"D","c":"C","v":0.02},{"t":15,"p":"D","c":"C","v":0.02},{"t":16,"p":"D","c":"C","v":0.07},{"t":17,"p":"D","c":"C","v":0.07},{"t":18,"p":"D","c":"C","v":0.07},{"t":19,"p":"D","c":"C","v":0.02},
{"t":20,"p":"D","c":"G","v":0.95},{"t":21,"p":"D","c":"G","v":0.87},{"t":22,"p":"D","c":"G","v":0.57},{"t":23,"p":"D","c":"G","v":0.86},{"t":24,"p":"D","c":"G","v":0.75},{"t":25,"p":"D","c":"G","v":0.83},{"t":26,"p":"D","c":"G","v":0.87},{"t":27,"p":"D","c":"G","v":1.0},{"t":28,"p":"D","c":"G","v":0.81},{"t":29,"p":"D","c":"G","v":0.86},{"t":30,"p":"D","c":"G","v":0.64},{"t":31,"p":"D","c":"G","v":0.8},{"t":32,"p":"D","c":"G","v":0.64},{"t":33,"p":"D","c":"G","v":0.88},{"t":34,"p":"D","c":"G","v":0.7},{"t":35,"p":"D","c":"G","v":0.81},{"t":36,"p":"D","c":"G","v":0.71},{"t":37,"p":"D","c":"G","v":0.83},{"t":38,"p":"D","c":"G","v":0.67},{"t":39,"p":"D","c":"G","v":0.83},
{"t":40,"p":"D","c":"Am","v":0.14},{"t":41,"p":"D","c":"Am","v":0.07},{"t":42,"p":"D","c":"Am","v":0.14},{"t":43,"p":"D","c":"Am","v":0.07},{"t":44,"p":"D","c":"Am","v":0.14},{"t":45,"p":"D","c":"Am","v":0.14},{"t":46,"p":"D","c":"Am","v":0.07},{"t":47,"p":"D","c":"Am","v":0.07},{"t":48,"p":"D","c":"Am","v":0.07},{"t":49,"p":"D","c":"Am","v":0.14},{"t":50,"p":"D","c":"Am","v":0.07},{"t":51,"p":"D","c":"Am","v":0.02},{"t":52,"p":"D","c":"Am","v":0.07},{"t":53,"p":"D","c":"Am","v":0.07},{"t":54,"p":"D","c":"Am","v":0.07},{"t":55,"p":"D","c":"Am","v":0.14},{"t":56,"p":"D","c":"Am","v":0.07},{"t":57,"p":"D","c":"Am","v":0.02},{"t":58,"p":"D","c":"Am","v":0.07},{"t":59,"p":"D","c":"Am","v":0.14},
{"t":60,"p":"D","c":"F","v":0.02},{"t":61,"p":"D","c":"F","v":0.02},{"t":62,"p":"D","c":"F","v":0.07},{"t":63,"p":"D","c":"F","v":0.07},{"t":64,"p":"D","c":"F","v":0.14},{"t":65,"p":"D","c":"F","v":0.07},{"t":66,"p":"D","c":"F","v":0.02},{"t":67,"p":"D","c":"F","v":0.14},{"t":68,"p":"D","c":"F","v":0.14},{"t":69,"p":"D","c":"F","v":0.07},{"t":70,"p":"D","c":"F","v":0.07},{"t":71,"p":"D","c":"F","v":0.07},{"t":72,"p":"D","c":"F","v":0.07},{"t":73,"p":"D","c":"F","v":0.07},{"t":74,"p":"D","c":"F","v":0.07},{"t":75,"p":"D","c":"F","v":0.07},{"t":76,"p":"D","c":"F","v":0.07},{"t":77,"p":"D","c":"F","v":0.14},{"t":78,"p":"D","c":"F","v":0.14},{"t":79,"p":"D","c":"F","v":0.14},
{"t":0,"p":"C#","c":"C","v":0.02},{"t":1,"p":"C#","c":"C","v":0.14},{"t":2,"p":"C#","c":"C","v":0.14},{"t":3,"p":"C#","c":"C","v":0.07},{"t":4,"p":"C#","c":"C","v":0.07},{"t":5,"p":"C#","c":"C","v":0.07},{"t":6,"p":"C#","c":"C","v":0.02},{"t":7,"p":"C#","c":"C","v":0.02},{"t":8,"p":"C#","c":"C","v":0.14},{"t":9,"p":"C#","c":"C","v":0.02},{"t":10,"p":"C#","c":"C","v":0.14},{"t":11,"p":"C#","c":"C","v":0.07},{"t":12,"p":"C#","c":"C","v":0.02},{"t":13,"p":"C#","c":"C","v":0.07},{"t":14,"p":"C#","c":"C","v":0.02},{"t":15,"p":"C#","c":"C","v":0.07},{"t":16,"p":"C#","c":"C","v":0.07},{"t":17,"p":"C#","c":"C","v":0.07},{"t":18,"p":"C#","c":"C","v":0.02},{"t":19,"p":"C#","c":"C","v":0.07},
{"t":20,"p":"C#","c":"G","v":0.14},{"t":21,"p":"C#","c":"G","v":0.07},{"t":22,"p":"C#","c":"G","v":0.02},{"t":23,"p":"C#","c":"G","v":0.07},{"t":24,"p":"C#","c":"G","v":0.14},{"t":25,"p":"C#","c":"G","v":0.14},{"t":26,"p":"C#","c":"G","v":0.07},{"t":27,"p":"C#","c":"G","v":0.14},{"t":28,"p":"C#","c":"G","v":0.14},{"t":29,"p":"C#","c":"G","v":0.02},{"t":30,"p":"C#","c":"G","v":0.07},{"t":31,"p":"C#","c":"G","v":0.14},{"t":32,"p":"C#","c":"G","v":0.14},{"t":33,"p":"C#","c":"G","v":0.02},{"t":34,"p":"C#","c":"G","v":0.07},{"t":35,"p":"C#","c":"G","v":0.07},{"t":36,"p":"C#","c":"G","v":0.07},{"t":37,"p":"C#","c":"G","v":0.14},{"t":38,"p":"C#","c":"G","v":0.07},{"t":39,"p":"C#","c":"G","v":0.14},
{"t":40,"p":"C#","c":"Am","v":0.14},{"t":41,"p":"C#","c":"Am","v":0.07},{"t":42,"p":"C#","c":"Am","v":0.07},{"t":43,"p":"C#","c":"Am","v":0.07},{"t":44,"p":"C#","c":"Am","v":0.02},{"t":45,"p":"C#","c":"Am","v":0.02},{"t":46,"p":"C#","c":"Am","v":0.14},{"t":47,"p":"C#","c":"Am","v":0.14},{"t":48,"p":"C#","c":"Am","v":0.07},{"t":49,"p":"C#","c":"Am","v":0.07},{"t":50,"p":"C#","c":"Am","v":0.07},{"t":51,"p":"C#","c":"Am","v":0.02},{"t":52,"p":"C#","c":"Am","v":0.07},{"t":53,"p":"C#","c":"Am","v":0.07},{"t":54,"p":"C#","c":"Am","v":0.07},{"t":55,"p":"C#","c":"Am","v":0.07},{"t":56,"p":"C#","c":"Am","v":0.07},{"t":57,"p":"C#","c":"Am","v":0.14},{"t":58,"p":"C#","c":"Am","v":0.14},{"t":59,"p":"C#","c":"Am","v":0.02},
{"t":60,"p":"C#","c":"F","v":0.14},{"t":61,"p":"C#","c":"F","v":0.07},{"t":62,"p":"C#","c":"F","v":0.14},{"t":63,"p":"C#","c":"F","v":0.07},{"t":64,"p":"C#","c":"F","v":0.02},{"t":65,"p":"C#","c":"F","v":0.14},{"t":66,"p":"C#","c":"F","v":0.14},{"t":67,"p":"C#","c":"F","v":0.07},{"t":68,"p":"C#","c":"F","v":0.07},{"t":69,"p":"C#","c":"F","v":0.07},{"t":70,"p":"C#","c":"F","v":0.02},{"t":71,"p":"C#","c":"F","v":0.07},{"t":72,"p":"C#","c":"F","v":0.07},{"t":73,"p":"C#","c":"F","v":0.07},{"t":74,"p":"C#","c":"F","v":0.07},{"t":75,"p":"C#","c":"F","v":0.14},{"t":76,"p":"C#","c":"F","v":0.07},{"t":77,"p":"C#","c":"F","v":0.07},{"t":78,"p":"C#","c":"F","v":0.02},{"t":79,"p":"C#","c":"F","v":0.07},
{"t":0,"p":"C","c":"C","v":0.63},{"t":1,"p":"C","c":"C","v":0.85},{"t":2,"p":"C","c":"C","v":0.96},{"t":3,"p":"C","c":"C","v":0.8},{"t":4,"p":"C","c":"C","v":0.88},{"t":5,"p":"C","c":"C","v":0.67},{"t":6,"p":"C","c":"C","v":0.57},{"t":7,"p":"C","c":"C","v":0.67},{"t":8,"p":"C","c":"C","v":1.0},{"t":9,"p":"C","c":"C","v":0.68},{"t":10,"p":"C","c":"C","v":0.7},{"t":11,"p":"C","c":"C","v":0.99},{"t":12,"p":"C","c":"C","v":0.78},{"t":13,"p":"C","c":"C","v":0.87},{"t":14,"p":"C","c":"C","v":0.94},{"t":15,"p":"C","c":"C","v":0.62},{"t":16,"p":"C","c":"C","v":0.81},{"t":17,"p":"C","c":"C","v":0.62},{"t":18,"p":"C","c":"C","v":0.9},{"t":19,"p":"C","c":"C","v":0.81},
{"t":20,"p":"C","c":"G","v":0.07},{"t":21,"p":"C","c":"G","v":0.14},{"t":22,"p":"C","c":"G","v":0.07},{"t":23,"p":"C","c":"G","v":0.07},{"t":24,"p":"C","c":"G","v":0.14},{"t":25,"p":"C","c":"G","v":0.02},{"t":26,"p":"C","c":"G","v":0.07},{"t":27,"p":"C","c":"G","v":0.07},{"t":28,"p":"C","c":"G","v":0.14},{"t":29,"p":"C","c":"G","v":0.02},{"t":30,"p":"C","c":"G","v":0.07},{"t":31,"p":"C","c":"G","v":0.07},{"t":32,"p":"C","c":"G","v":0.14},{"t":33,"p":"C","c":"G","v":0.02},{"t":34,"p":"C","c":"G","v":0.14},{"t":35,"p":"C","c":"G","v":0.14},{"t":36,"p":"C","c":"G","v":0.07},{"t":37,"p":"C","c":"G","v":0.02},{"t":38,"p":"C","c":"G","v":0.07},{"t":39,"p":"C","c":"G","v":0.02},
{"t":40,"p":"C","c":"Am","v":0.74},{"t":41,"p":"C","c":"Am","v":0.83},{"t":42,"p":"C","c":"Am","v":0.74},{"t":43,"p":"C","c":"Am","v":0.85},{"t":44,"p":"C","c":"Am","v":0.83},{"t":45,"p":"C","c":"Am","v":0.68},{"t":46,"p":"C","c":"Am","v":0.92},{"t":47,"p":"C","c":"Am","v":0.81},{"t":48,"p":"C","c":"Am","v":0.87},{"t":49,"p":"C","c":"Am","v":0.76},{"t":50,"p":"C","c":"Am","v":0.74},{"t":51,"p":"C","c":"Am","v":0.76},{"t":52,"p":"C","c":"Am","v":0.94},{"t":53,"p":"C","c":"Am","v":0.65},{"t":54,"p":"C","c":"Am","v":0.64},{"t":55,"p":"C","c":"Am","v":0.61},{"t":56,"p":"C","c":"Am","v":0.8},{"t":57,"p":"C","c":"Am","v":0.58},{"t":58,"p":"C","c":"Am","v":0.67},{"t":59,"p":"C","c":"Am","v":0.85},
{"t":60,"p":"C","c":"F","v":0.57},{"t":61,"p":"C","c":"F","v":0.99},{"t":62,"p":"C","c":"F","v":0.68},{"t":63,"p":"C","c":"F","v":0.68},{"t":64,"p":"C","c":"F","v":0.67},{"t":65,"p":"C","c":"F","v":0.49},{"t":66,"p":"C","c":"F","v":0.73},{"t":67,"p":"C","c":"F","v":0.86},{"t":68,"p":"C","c":"F","v":0.52},{"t":69,"p":"C","c":"F","v":0.74},{"t":70,"p":"C","c":"F","v":0.85},{"t":71,"p":"C","c":"F","v":0.52},{"t":72,"p":"C","c":"F","v":0.68},{"t":73,"p":"C","c":"F","v":0.68},{"t":74,"p":"C","c":"F","v":0.92},{"t":75,"p":"C","c":"F","v":0.79},{"t":76,"p":"C","c":"F","v":0.79},{"t":77,"p":"C","c":"F","v":0.9},{"t":78,"p":"C","c":"F","v":0.58},{"t":79,"p":"C","c":"F","v":0.99}
]},
"facet": {"column": {"field": "c", "type": "nominal", "sort": ["C", "G", "Am", "F"], "title": "Time (seconds)", "header": {"labelOrient": "top", "titleOrient": "bottom", "labelFont": "Liberation Sans", "labelFontSize": 22, "labelFontWeight": "bold", "labelColor": "#1a1a1a", "labelPadding": 9, "titleFont": "Liberation Sans", "titleFontSize": 32, "titleFontWeight": "normal", "titleColor": "#444444", "titlePadding": 78}}},
"spacing": 0,
"resolve": {"scale": {"x": "independent"}},
"spec": {
  "width": 500,
  "height": 2016,
  "mark": {"type": "rect", "stroke": "#ffffff", "strokeWidth": 1, "strokeOpacity": 0.85},
  "encoding": {
    "x": {"field": "t", "type": "ordinal", "scale": {"paddingInner": 0, "paddingOuter": 0}, "axis": {"title": null, "labelExpr": "datum.value % 20 == 0 ? format(datum.value / 20, '.1f') + 's' : ''", "labelAngle": 0, "ticks": false, "domain": true, "domainColor": "#444444", "domainWidth": 2, "labelFont": "Liberation Sans", "labelFontSize": 26, "labelColor": "#444444", "labelPadding": 14, "grid": false}},
    "y": {"field": "p", "type": "ordinal", "sort": ["B", "A#", "A", "G#", "G", "F#", "F", "E", "D#", "D", "C#", "C"], "scale": {"paddingInner": 0, "paddingOuter": 0}, "axis": {"title": "Pitch Class", "ticks": false, "domain": false, "labelFont": "Liberation Sans", "labelFontSize": 28, "labelColor": "#444444", "labelPadding": 16, "titleFont": "Liberation Sans", "titleFontSize": 32, "titleFontWeight": "normal", "titleColor": "#444444", "titlePadding": 62}},
    "color": {"field": "v", "type": "quantitative", "scale": {"domain": [0, 1], "range": ["#009E73", "#4566A4"], "interpolate": "rgb"}, "legend": {"title": "High", "orient": "none", "legendX": 2134, "legendY": 713, "direction": "vertical", "gradientLength": 440, "gradientThickness": 43, "gradientStrokeWidth": 0, "values": [0], "labelExpr": "'Low'", "labelFont": "Liberation Sans", "labelFontSize": 28, "labelColor": "#444444", "titleFont": "Liberation Sans", "titleFontSize": 28, "titleFontWeight": "normal", "titleColor": "#444444", "titleAnchor": "middle", "titleAlign": "center", "titlePadding": 14, "encode": {"labels": {"update": {"x": {"value": 21.5}, "y": {"value": 472}, "align": {"value": "center"}, "baseline": {"value": "middle"}}}, "gradient": {"update": {"cornerRadius": {"value": 6}}}}}}
  }
},
"config": {"view": {"stroke": null}, "font": "Liberation Sans"}
}
